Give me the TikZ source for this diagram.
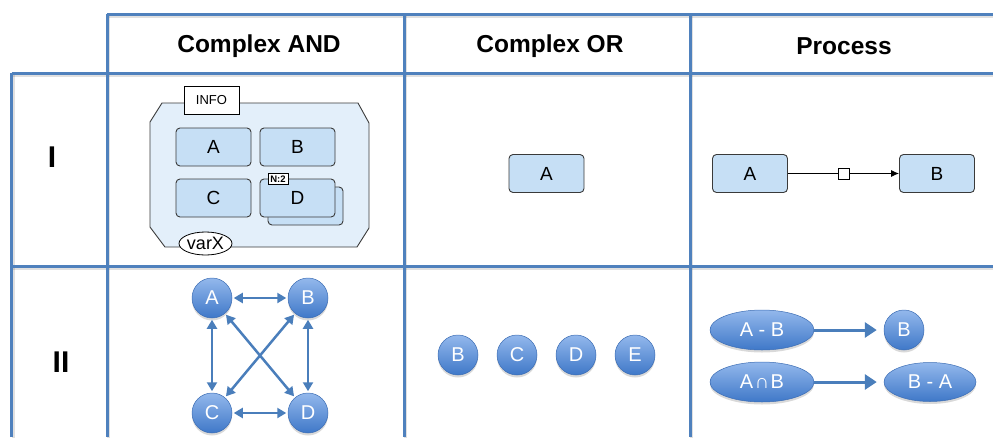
\documentclass[tikz,border=0pt]{standalone}
\usepackage{fontspec}
\setmainfont{Liberation Sans}
\usetikzlibrary{arrows.meta,shadows,shapes.geometric}

\definecolor{gridblue}{HTML}{4F81BD}
\definecolor{cellfill}{HTML}{E3EFFA}
\definecolor{boxfill}{HTML}{C6DFF5}
\definecolor{edgegray}{HTML}{3A3A3A}
\definecolor{balltop}{HTML}{93B8EC}
\definecolor{ballbot}{HTML}{3F78C8}
\definecolor{ballrim}{HTML}{3C6DB4}
\definecolor{arrowblue}{HTML}{4A7EBB}

\begin{document}
\begin{tikzpicture}[x=1pt,y=-1pt,
  gridline/.style={draw=gridblue,line width=3pt},
  gridshade/.style={draw=black,opacity=0.12,line width=3pt},
  header/.style={font=\bfseries\fontsize{24.5}{27}\selectfont},
  rowlabel/.style={font=\bfseries\fontsize{30}{32}\selectfont},
  entity/.style={draw=edgegray,fill=boxfill,rounded corners=4pt,line width=0.9pt,
    minimum width=75pt,minimum height=38pt,inner sep=0pt,font=\fontsize{19}{22}\selectfont},
  infobox/.style={draw=black,fill=white,line width=0.8pt,minimum width=55pt,minimum height=28pt,
    inner sep=0pt,font=\fontsize{13}{15}\selectfont},
  multbox/.style={draw=black,fill=white,line width=0.7pt,minimum width=20pt,minimum height=11pt,
    inner sep=0pt,font=\bfseries\fontsize{9.5}{10}\selectfont},
  varbox/.style={ellipse,draw=black,fill=white,line width=0.8pt,minimum width=53pt,minimum height=23pt,
    inner sep=0pt,font=\fontsize{18}{20}\selectfont},
  gate/.style={draw=black,fill=white,line width=0.7pt,minimum size=11pt,inner sep=0pt},
  ball/.style={circle,draw=ballrim,line width=0.5pt,top color=balltop,bottom color=ballbot,
    minimum size=40pt,inner sep=0pt,text=white,font=\fontsize{20}{22}\selectfont,
    drop shadow={shadow xshift=0pt,shadow yshift=-2.5pt,opacity=0.3}},
  oval/.style={ball,ellipse,minimum height=40pt},
  link/.style={draw=arrowblue,line width=2.5pt,{Triangle[length=9pt,width=10pt]}-{Triangle[length=9pt,width=10pt]},
    shorten <=1.5pt,shorten >=1.5pt},
  flow/.style={draw=arrowblue,line width=3pt,-{Triangle[length=12pt,width=15pt]},shorten >=7pt}
]
\useasboundingbox (0,0) rectangle (993,437);

% table grid, with a faint shadow under each rule
\foreach \dx/\dy in {1.5/2, 0/0}{
  \ifdim\dx pt=0pt \tikzset{rule/.style=gridline}\else\tikzset{rule/.style=gridshade}\fi
  \draw[rule,shift={(\dx,\dy)}] (107,14) -- (993,14);
  \draw[rule,shift={(\dx,\dy)}] (11.5,73) -- (993,73);
  \draw[rule,shift={(\dx,\dy)}] (11.5,266) -- (993,266);
  \draw[rule,shift={(\dx,\dy)}] (11.5,73) -- (11.5,437);
  \draw[rule,shift={(\dx,\dy)}] (107,14) -- (107,437);
  \draw[rule,shift={(\dx,\dy)}] (404,14) -- (404,437);
  \draw[rule,shift={(\dx,\dy)}] (690,14) -- (690,437);
}

% headers
\node[header] (hand) at (259,46) {Complex AND};
\node[header] (hor) at (550,46) {Complex OR};
\node[header] (hproc) at (844,46) {Process};
\node[rowlabel] (rI) at (52,157) {I};
\node[rowlabel] (rII) at (61,362) {II};

% ---- row I, Complex AND: compartment with four entities
\draw[draw=edgegray,fill=cellfill,line width=0.9pt]
  (162,103) -- (358,103) -- (369,123) -- (369,228) -- (357,247)
  -- (165,247) -- (150,227) -- (150,122) -- cycle;
\node[infobox] (info) at (211.5,100) {INFO};
\node[entity] (ca) at (213.5,147) {A};
\node[entity] (cb) at (297.5,147) {B};
\node[entity] (cc) at (213.5,198) {C};
\node[entity] (cdback) at (305.5,206) {};
\node[entity] (cd) at (297.5,198) {D};
\node[multbox] (cdn) at (278,179) {N:2};
\node[varbox] (varx) at (205.5,243.5) {varX};

% ---- row I, Complex OR
\node[entity] (oa) at (546.5,173.5) {A};

% ---- row I, Process
\node[entity] (pa) at (750,173.5) {A};
\node[entity] (pb) at (937,173.5) {B};
\draw[line width=0.9pt,-{Latex[length=8pt,width=7pt]}] (pa) -- node[gate] (pgate) {} (pb);

% ---- row II, Complex AND: fully connected
\node[ball] (ga) at (212,298) {A};
\node[ball] (gb) at (308,298) {B};
\node[ball] (gc) at (212,413) {C};
\node[ball] (gd) at (308,413) {D};
\draw[link] (ga) -- (gb);
\draw[link] (gc) -- (gd);
\draw[link] (ga) -- (gc);
\draw[link] (gb) -- (gd);
\draw[link] (ga) -- (gd);
\draw[link] (gb) -- (gc);

% ---- row II, Complex OR
\node[ball] (ob) at (458,355) {B};
\node[ball] (oc) at (517,355) {C};
\node[ball] (od) at (576,355) {D};
\node[ball] (oe) at (635,355) {E};

% ---- row II, Process
\node[oval,minimum width=104pt] (amb) at (762,330) {A - B};
\node[ball] (rb) at (904,330) {B};
\node[oval,minimum width=104pt] (anb) at (762,382) {A\hspace{1.5pt}∩\hspace{1.5pt}B};
\node[oval,minimum width=92pt,minimum height=39pt] (bma) at (930,382) {B - A};
\draw[flow] (amb) -- (rb);
\draw[flow] (anb) -- (bma);
\end{tikzpicture}
\end{document}
